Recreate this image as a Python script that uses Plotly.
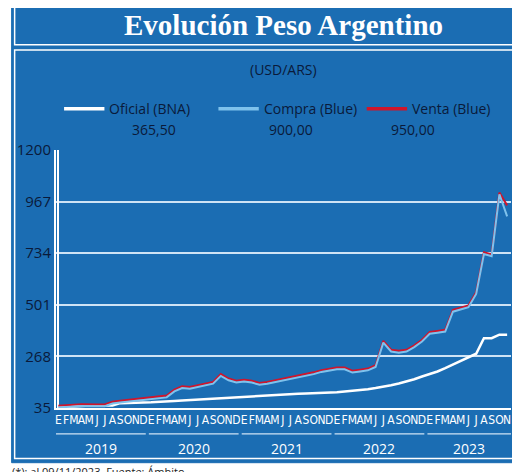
import plotly.graph_objects as go

# monthly, Jan 2019 .. Nov 2023
oficial = [38, 39, 42, 44, 46, 45, 44, 46, 57, 59, 60, 60,
           61, 62, 64, 67, 69, 71, 73, 75, 77, 80, 82, 84,
           87, 89, 92, 94, 95, 97, 98, 99, 100, 101, 102, 103,
           106, 109, 112, 116, 120, 125, 130, 138, 146, 155, 165, 177,
           188, 200, 215, 231, 245, 262, 280, 350, 350, 366, 366]
compra = [37, 38, 42, 44, 45, 43, 43, 55, 60, 64, 67, 72,
          77, 78, 83, 110, 125, 122, 130, 135, 145, 180, 160, 150,
          155, 150, 140, 145, 152, 160, 168, 175, 182, 188, 198, 205,
          210, 210, 195, 200, 205, 220, 330, 290, 285, 290, 310, 335,
          370, 375, 380, 470, 480, 490, 550, 730, 720, 1000, 900]
venta = [c + 8 for c in compra[:-1]] + [950]
month_letters = ["E", "F", "M", "A", "M", "J", "J", "A", "S", "O", "N", "D"]
years = ["2019", "2020", "2021", "2022", "2023"]
y_ticks = [35, 268, 501, 734, 967, 1200]

x = list(range(len(compra)))
tick_text = [month_letters[i % 12] for i in x]

fig = go.Figure()
fig.add_trace(go.Scatter(x=x, y=oficial, mode="lines", line=dict(color="white", width=2.5)))
fig.add_trace(go.Scatter(x=x, y=venta, mode="lines", line=dict(color="#d0152b", width=2)))
fig.add_trace(go.Scatter(x=x, y=compra, mode="lines", line=dict(color="#7fc2ec", width=2)))

blue = "#1b6db3"
dark = "#0a1a3a"

# window pixel -> paper coords (page body has an 8px offset)
def px_x(p):
    return (p - 52) / 451

def px_y(p):
    return (400 - p) / 250

shapes = [
    dict(type="rect", xref="paper", yref="paper", x0=px_x(8), x1=px_x(513), y0=px_y(453), y1=px_y(8),
         fillcolor=blue, line=dict(color=blue, width=1), layer="below"),
    dict(type="rect", xref="paper", yref="paper", x0=px_x(11), x1=px_x(509), y0=px_y(48), y1=px_y(11),
         line=dict(color="white", width=1.5)),
    dict(type="rect", xref="paper", yref="paper", x0=px_x(11), x1=px_x(509), y0=px_y(449), y1=px_y(53),
         line=dict(color="white", width=1.5)),
]
annotations = [
    dict(text="<b>Evolución Peso Argentino</b>", x=0.5, y=px_y(29), xref="paper", yref="paper", showarrow=False,
         font=dict(family="Liberation Serif", size=29, color="white"), xanchor="center", yanchor="middle"),
    dict(text="(USD/ARS)", x=0.5, y=px_y(72), xref="paper", yref="paper", showarrow=False,
         font=dict(family="Open Sans", size=14, color=dark), yanchor="middle"),
    dict(text="(*): al 09/11/2023. Fuente: Ámbito.", x=px_x(6), y=px_y(462), xref="paper", yref="paper",
         showarrow=False, xanchor="left", yanchor="middle", font=dict(family="Open Sans", size=11, color="#222")),
]
legend = [("Oficial (BNA)", "365,50", "white", 60, 125),
          ("Compra (Blue)", "900,00", "#7fc2ec", 213, 285),
          ("Venta (Blue)", "950,00", "#d0152b", 360, 430)]
for name, val, col, lx, cx in legend:
    shapes.append(dict(type="line", xref="paper", yref="paper", x0=px_x(lx), x1=px_x(lx + 40),
                       y0=px_y(110), y1=px_y(110), line=dict(color=col, width=3.5)))
    annotations.append(dict(text=name, x=px_x(lx + 43), y=px_y(110), xref="paper", yref="paper",
                            showarrow=False, xanchor="left", yanchor="middle",
                            font=dict(family="Open Sans", size=14, color=dark)))
    annotations.append(dict(text=val, x=px_x(cx), y=px_y(130), xref="paper", yref="paper",
                            showarrow=False, yanchor="middle", font=dict(family="Open Sans", size=14, color=dark)))
for i, yr in enumerate(years):
    start = i * 12 - 0.3
    end = min(i * 12 + 11.3, len(x) - 0.5)
    shapes.append(dict(type="line", xref="x", yref="paper", x0=start, x1=end, y0=px_y(425), y1=px_y(425),
                       line=dict(color="#cfe3f5", width=1.2)))
    annotations.append(dict(text=yr, x=(start + end) / 2, y=px_y(439), xref="x", yref="paper",
                            showarrow=False, yanchor="middle", font=dict(family="Open Sans", size=14, color="white")))

fig.update_layout(
    width=512, height=464, margin=dict(l=44, r=9, t=142, b=64),
    paper_bgcolor="white", plot_bgcolor=blue, showlegend=False,
    shapes=shapes, annotations=annotations,
    xaxis=dict(range=[-0.3, len(x) - 0.5], tickvals=x, ticktext=tick_text, tickangle=0,
               showgrid=False, showline=True, linecolor="white", linewidth=2, ticks="",
               tickfont=dict(family="Liberation Sans Narrow, DejaVu Sans Condensed", size=12, color="white")),
    yaxis=dict(range=[35, 1200], tickvals=y_ticks, showgrid=True, gridcolor="#cfe3f5", gridwidth=1.5,
               showline=True, linecolor="white", linewidth=2, zeroline=False,
               tickfont=dict(family="Open Sans", size=15, color=dark)),
)
fig.write_html("out.html")
